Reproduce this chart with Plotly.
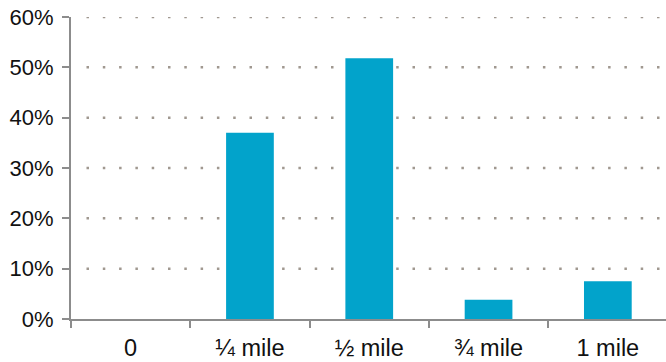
import plotly.graph_objects as go

# Share of responses by walking distance
categories = ["0", "¼ mile", "½ mile", "¾ mile", "1 mile"]
shares = [0.0, 37.0, 51.8, 3.8, 7.5]
y_ticks = [0, 10, 20, 30, 40, 50, 60]
y_tick_labels = ["0%", "10%", "20%", "30%", "40%", "50%", "60%"]

BAR_COLOR = "#02a3cb"
AXIS_COLOR = "#8c8c8c"
GRID_COLOR = "#a09890"
FONT = "Liberation Sans, Arial, Helvetica, sans-serif"

fig = go.Figure(
    go.Bar(
        x=categories,
        y=shares,
        marker=dict(color=BAR_COLOR, line=dict(width=0)),
        width=0.4,
        hoverinfo="skip",
    )
)

# Dotted guide lines at every non-zero tick, starting a little right of the axis
for v in y_ticks[1:]:
    fig.add_shape(
        type="line",
        xref="x",
        yref="y",
        x0=-0.5 + 15.5 / 119.3,
        x1=4.6,
        y0=v,
        y1=v,
        line=dict(color=GRID_COLOR, width=2.5, dash="2.5px,13.8px"),
        layer="below",
    )

fig.update_layout(
    width=666,
    height=362,
    margin=dict(l=71, r=0, t=17, b=43),
    paper_bgcolor="white",
    plot_bgcolor="white",
    showlegend=False,
    font=dict(family=FONT, color="#111111", size=22),
    xaxis=dict(
        type="category",
        range=[-0.5, -0.5 + 595 / 119.3],
        showgrid=False,
        showline=True,
        linecolor=AXIS_COLOR,
        linewidth=2,
        ticks="outside",
        tickson="boundaries",
        ticklen=7,
        tickwidth=2,
        tickcolor=AXIS_COLOR,
        tickfont=dict(size=23.5, family=FONT, color="#111111"),
        ticklabelstandoff=7,
        zeroline=False,
    ),
    yaxis=dict(
        range=[0, 60],
        tickvals=y_ticks,
        ticktext=y_tick_labels,
        showgrid=False,
        showline=True,
        linecolor=AXIS_COLOR,
        linewidth=2,
        ticks="outside",
        ticklen=7,
        tickwidth=2,
        tickcolor=AXIS_COLOR,
        tickfont=dict(size=22, family=FONT, color="#111111"),
        ticklabelstandoff=4,
        zeroline=False,
    ),
)

fig.write_html("out.html")
